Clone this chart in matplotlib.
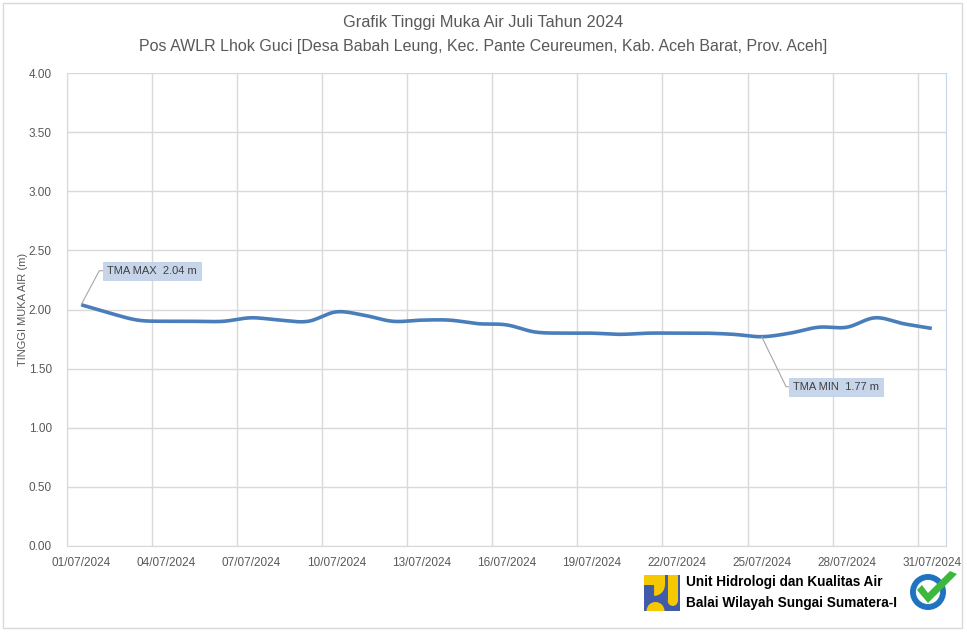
import numpy as np
import matplotlib
matplotlib.use("Agg")
import matplotlib.pyplot as plt
from matplotlib.patches import Rectangle, Circle, Wedge, Polygon

plt.rcParams['font.family'] = ['Liberation Sans', 'DejaVu Sans']

# ---- data ----
days = list(range(1, 32))
tma = [2.04, 1.97, 1.91, 1.90, 1.90, 1.90, 1.93, 1.91, 1.90, 1.98,
       1.95, 1.90, 1.91, 1.91, 1.88, 1.87, 1.81, 1.80, 1.80, 1.79,
       1.80, 1.80, 1.80, 1.79, 1.77, 1.80, 1.85, 1.85, 1.93, 1.88, 1.84]
tick_days = [1, 4, 7, 10, 13, 16, 19, 22, 25, 28, 31]
tick_labels = ["%02d/07/2024" % d for d in tick_days]
yticks = [0.0, 0.5, 1.0, 1.5, 2.0, 2.5, 3.0, 3.5, 4.0]
title1 = "Grafik Tinggi Muka Air Juli Tahun 2024"
title2 = "Pos AWLR Lhok Guci [Desa Babah Leung, Kec. Pante Ceureumen, Kab. Aceh Barat, Prov. Aceh]"
ylabel = "TINGGI MUKA AIR (m)"

W, H = 967, 633
fig = plt.figure(figsize=(W / 100, H / 100), dpi=100)
fig.patch.set_facecolor('white')

def fx(px):
    return px / W

def fy(py):
    return 1 - py / H

ax = fig.add_axes([fx(67), fy(546), fx(946) - fx(67), fy(73) - fy(546)])

# smoothed line (Catmull-Rom through the data points, like Excel smoothing)
x = np.array(days, dtype=float) - 0.5
y = np.array(tma, dtype=float)
xs, ys = [], []
n = len(x)
for i in range(n - 1):
    p0 = (x[i - 1], y[i - 1]) if i > 0 else (2 * x[0] - x[1], 2 * y[0] - y[1])
    p1 = (x[i], y[i])
    p2 = (x[i + 1], y[i + 1])
    p3 = (x[i + 2], y[i + 2]) if i + 2 < n else (2 * x[-1] - x[-2], 2 * y[-1] - y[-2])
    t = np.linspace(0, 1, 20, endpoint=False)
    for P, store in ((0, xs), (1, ys)):
        a0, a1, a2, a3 = p0[P], p1[P], p2[P], p3[P]
        store.extend(0.5 * ((2 * a1) + (-a0 + a2) * t +
                            (2 * a0 - 5 * a1 + 4 * a2 - a3) * t ** 2 +
                            (-a0 + 3 * a1 - 3 * a2 + a3) * t ** 3))
xs.append(x[-1]); ys.append(y[-1])
ax.plot(xs, ys, color='#4a7ebb', lw=2.6, solid_capstyle='butt', zorder=3)

ax.set_xlim(0, 31)
ax.set_ylim(0, 4)
ax.set_yticks(yticks)
ax.set_yticklabels(["%.2f" % v for v in yticks])
ax.set_xticks([d - 1 for d in tick_days])
ax.set_xticks([d - 0.5 for d in tick_days], minor=True)
ax.set_xticklabels([])
ax.set_xticklabels(tick_labels, minor=True)
ax.tick_params(axis='x', which='both', length=0, pad=8, labelsize=8.5, labelcolor='#595959')
ax.tick_params(axis='y', length=0, pad=11, labelsize=8.5, labelcolor='#595959')
ax.grid(True, which='major', color='#d9d9d9', lw=1)
ax.set_axisbelow(True)
ax.spines['top'].set_visible(False)
ax.spines['left'].set_color('#d9d9d9')
ax.spines['bottom'].set_color('#d9d9d9')
ax.spines['right'].set_color('#c5d5ea')

ax.set_ylabel(ylabel, fontsize=8, color='#595959')
ax.yaxis.set_label_coords((28 - 67) / 879, 0.5)

# annotations
imax = int(np.argmax(y))
imin = int(np.argmin(y))
box = dict(boxstyle='square,pad=0.35', fc='#c6d5ea', ec='#b9cde5', lw=0.5)
ax.annotate("TMA MAX  %.2f m" % y[imax], xy=(x[imax], y[imax]), xytext=(26, 34),
            textcoords='offset pixels', ha='left', va='center', fontsize=8,
            color='#404040', bbox=box,
            arrowprops=dict(arrowstyle='-', color='#a6a6a6', lw=0.8,
                            connectionstyle='angle,angleA=0,angleB=62,rad=0',
                            shrinkA=0, shrinkB=0))
ax.annotate("TMA MIN  %.2f m" % y[imin], xy=(x[imin], y[imin]), xytext=(31, -50),
            textcoords='offset pixels', ha='left', va='center', fontsize=8,
            color='#404040', bbox=box,
            arrowprops=dict(arrowstyle='-', color='#a6a6a6', lw=0.8,
                            connectionstyle='angle,angleA=0,angleB=-64,rad=0',
                            shrinkA=0, shrinkB=0))

# titles
fig.text(0.5, fy(22), title1, ha='center', va='center', fontsize=11.8, color='#595959')
fig.text(0.5, fy(46), title2, ha='center', va='center', fontsize=11.5, color='#595959')

# outer border
fig.add_artist(Rectangle((fx(3), fy(628)), fx(962) - fx(3), fy(3) - fy(628),
                         transform=fig.transFigure, fill=False, ec='#d9d9d9', lw=1))

# PU logo
YEL, BLU = '#f5c800', '#3f5ba9'
lax = fig.add_axes([fx(644), fy(611), fx(36), fy(575) - fy(611)])
lax.set_xlim(0, 1); lax.set_ylim(0, 1); lax.axis('off')
lax.add_patch(Rectangle((0, 0), 1, 1, fc=BLU, ec='none'))
lax.add_patch(Rectangle((0, 0.72), 0.28, 0.28, fc=YEL, ec='none'))
lax.add_patch(Wedge((0.28, 0.72), 0.3, -90, 90, fc=YEL, ec='none'))
lax.add_patch(Rectangle((0.28, 0.72), 0.3, 0.28, fc=YEL, ec='none'))
lax.add_patch(Rectangle((0.66, 0.28), 0.28, 0.72, fc=YEL, ec='none'))
lax.add_patch(Circle((0.80, 0.28), 0.14, fc=YEL, ec='none'))
lax.add_patch(Wedge((0.32, 0.0), 0.25, 0, 180, fc=YEL, ec='none'))

fig.text(fx(686), fy(582), "Unit Hidrologi dan Kualitas Air", ha='left', va='center',
         fontsize=9.8, fontweight='bold', color='black')
fig.text(fx(686), fy(603), "Balai Wilayah Sungai Sumatera-I", ha='left', va='center',
         fontsize=9.8, fontweight='bold', color='black')

# certified badge
bax = fig.add_axes([fx(906), fy(612), fx(54), fy(570) - fy(612)])
bax.set_xlim(0, 54); bax.set_ylim(0, 42); bax.set_aspect('equal'); bax.axis('off')
bax.add_patch(Circle((22, 20), 18, fc='#1f73c0', ec='none'))
bax.add_patch(Circle((22, 20), 12.5, fc='white', ec='#1f73c0', lw=0.6))
bax.add_patch(Polygon([[11, 22], [16, 27], [22, 19], [44, 41], [51, 38], [22, 9]],
                      closed=True, fc='#3cb83c', ec='none'))

fig.savefig("out.png", dpi=100)
